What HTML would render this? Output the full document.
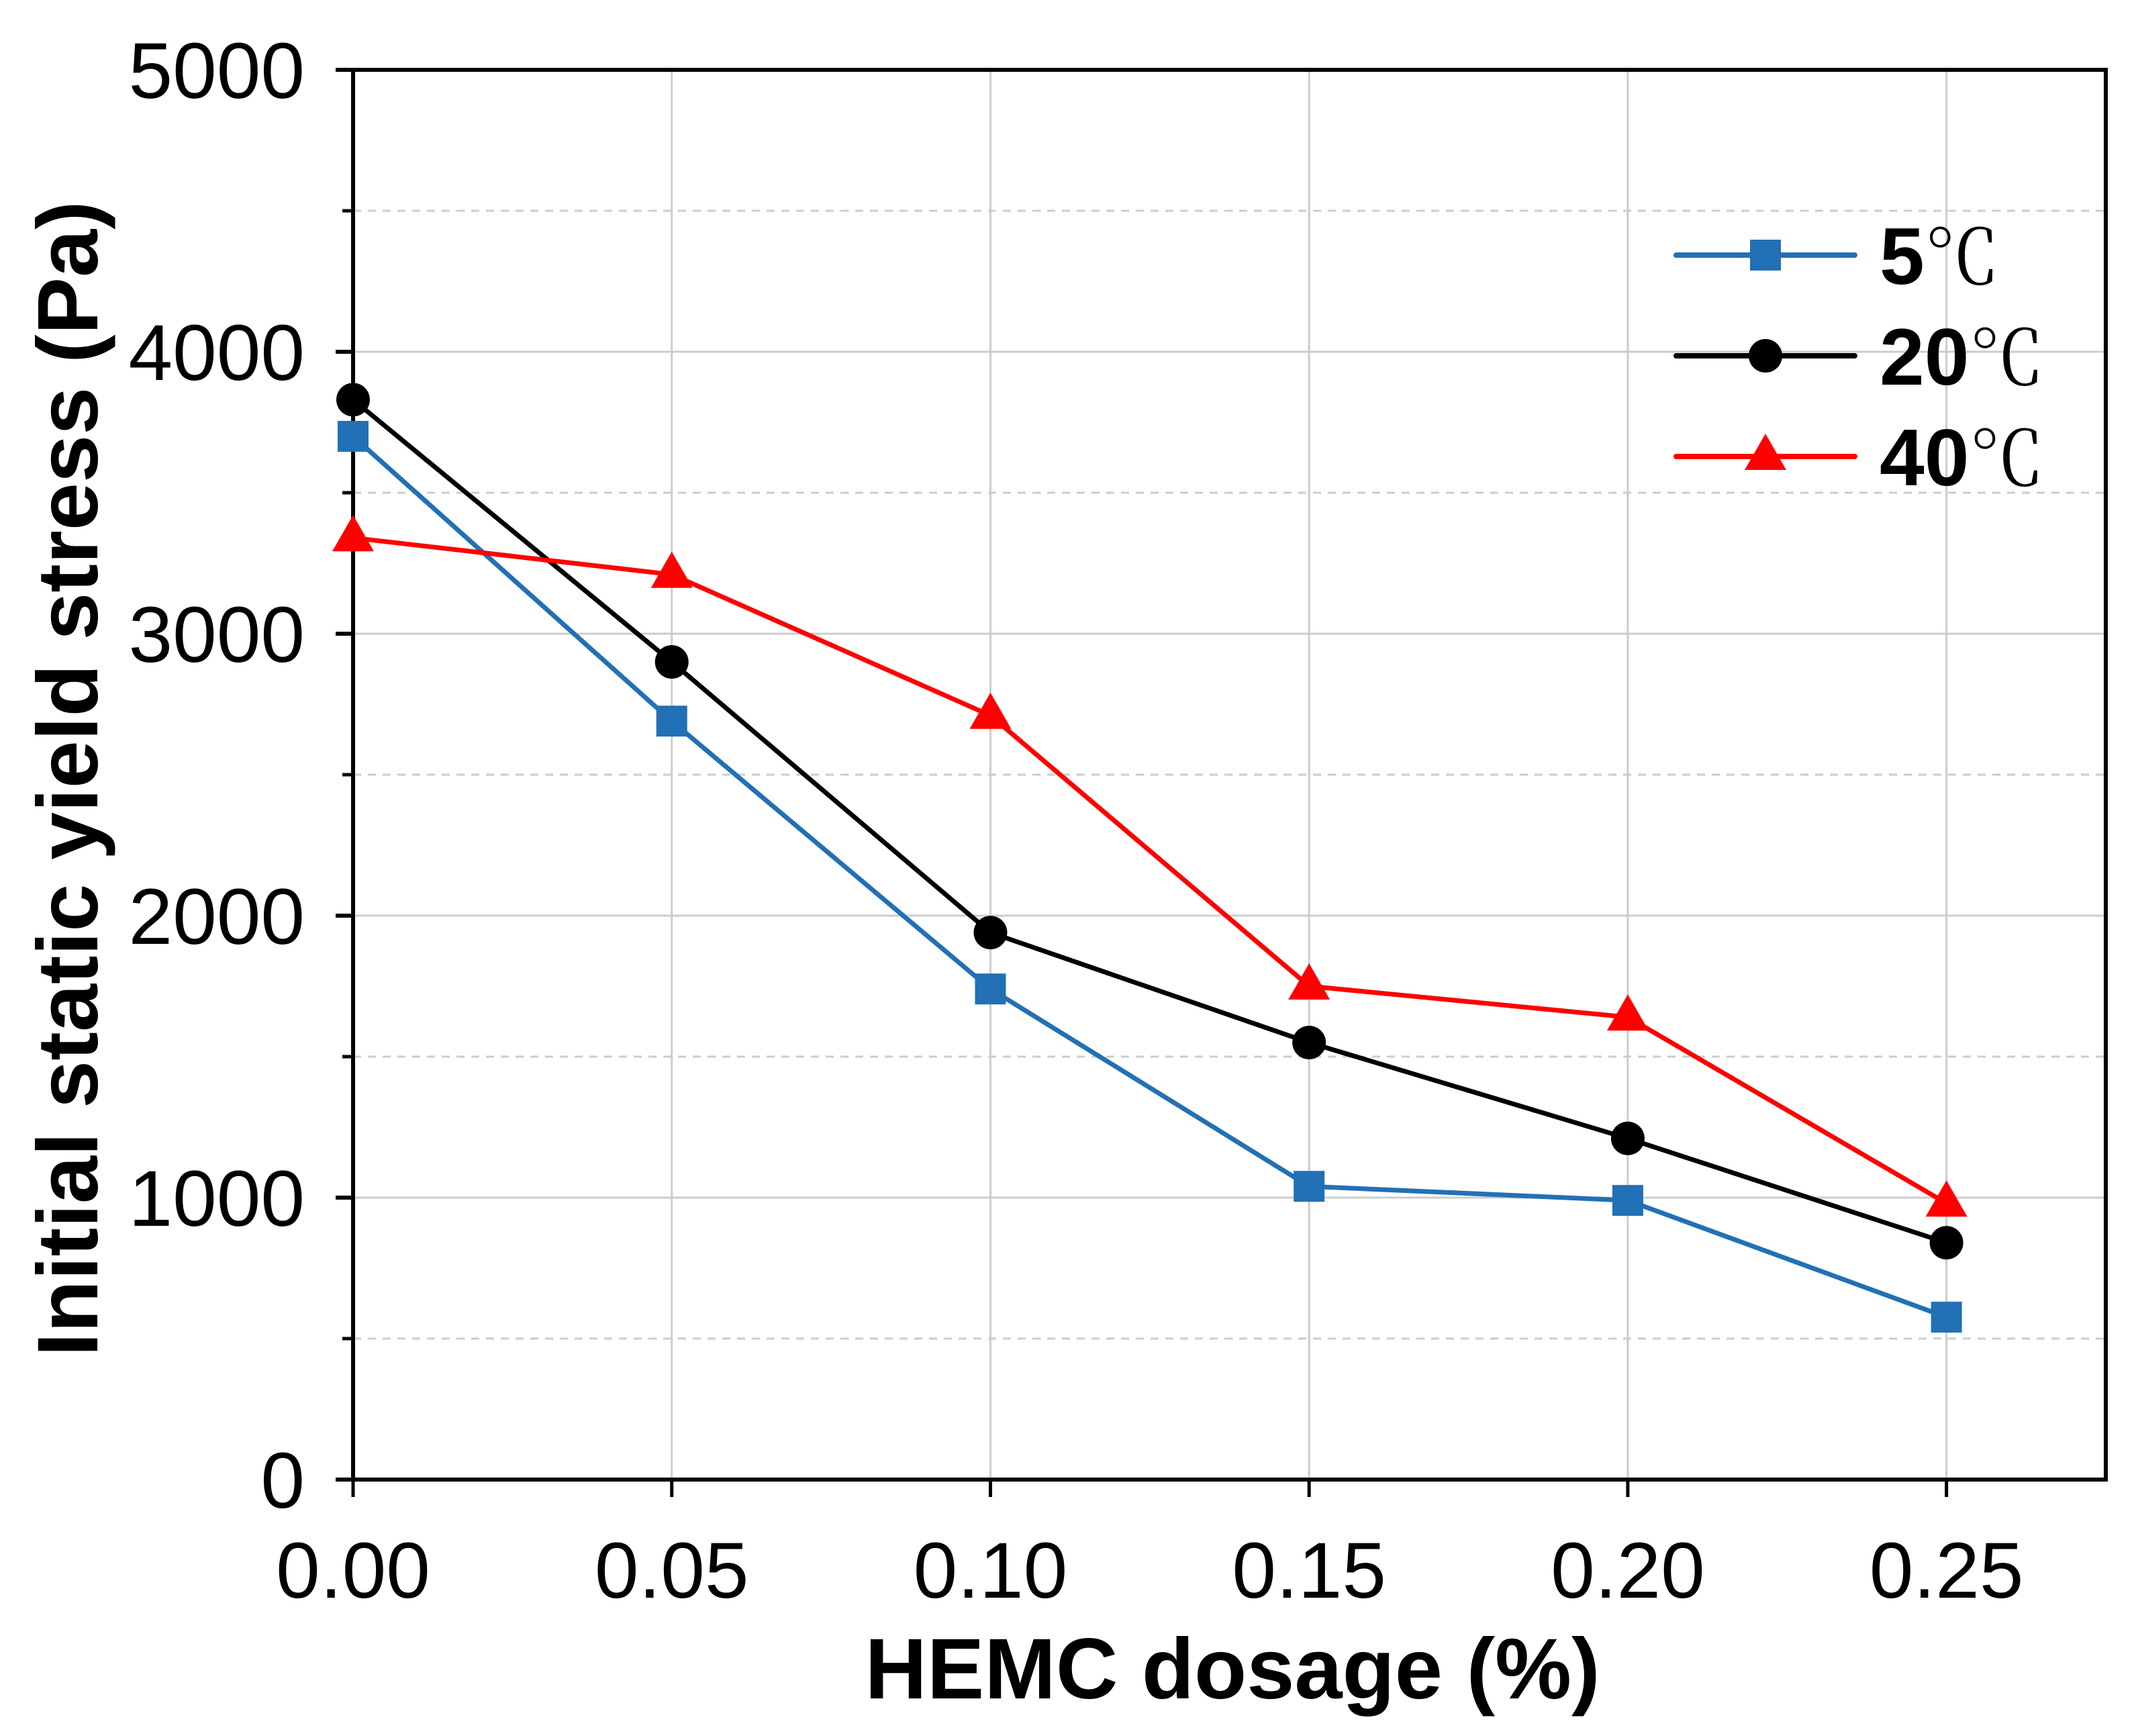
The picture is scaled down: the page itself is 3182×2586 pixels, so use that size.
<!DOCTYPE html>
<html><head><meta charset="utf-8"><style>
html,body{margin:0;padding:0;background:#fff;}
svg{display:block;}
</style></head><body>
<svg id="chart" width="3182" height="2586" viewBox="0 0 3182 2586" xmlns="http://www.w3.org/2000/svg">
<g id="grid"></g>
<g id="axes"></g>
<g id="series"></g>
<g id="legend"></g>
<text x="1836" y="2530" text-anchor="middle" font-family="Liberation Sans, sans-serif" font-weight="bold" font-size="128">HEMC dosage (%)</text>
<text transform="translate(145,1160) rotate(-90)" text-anchor="middle" font-family="Liberation Sans, sans-serif" font-weight="bold" font-size="128">Initial static yield stress (Pa)</text>
</svg>
<script>
const xValues = [0, 0.05, 0.10, 0.15, 0.20, 0.25];
const xTickLabels = ["0.00","0.05","0.10","0.15","0.20","0.25"];
const yTicks = [0, 1000, 2000, 3000, 4000, 5000];
const yMinorTicks = [500, 1500, 2500, 3500, 4500];
const s5 = [3700, 2690, 1740, 1040, 990, 576];
const s20 = [3830, 2900, 1940, 1550, 1210, 840];
const s40 = [3340, 3210, 2710, 1750, 1640, 980];
const seriesNames = ["5", "20", "40"];

const L=526, R=3137, T=104, B=2204;
const xMax=0.275, yMax=5000;
const X=v=>L+(v/xMax)*(R-L);
const Y=v=>B-(v/yMax)*(B-T);
const NS="http://www.w3.org/2000/svg";
function mk(tag,attrs,parent){const e=document.createElementNS(NS,tag);for(const k in attrs)e.setAttribute(k,attrs[k]);parent.appendChild(e);return e;}
const grid=document.getElementById('grid'),axes=document.getElementById('axes'),ser=document.getElementById('series'),leg=document.getElementById('legend');

yTicks.forEach(v=>{if(v>0&&v<yMax){const l=mk('line',{x1:L,x2:R,y1:Y(v),y2:Y(v),stroke:'#cccccc','stroke-width':3},grid);

}});
yMinorTicks.forEach(v=>{const l=mk('line',{x1:L,x2:R,y1:Y(v),y2:Y(v),stroke:'#cccccc','stroke-width':3,'stroke-dasharray':'12 10'},grid);

});
xValues.forEach(v=>{if(v>0){const l=mk('line',{x1:X(v),x2:X(v),y1:T,y2:B,stroke:'#cccccc','stroke-width':3},grid);

}});

const fr=mk('rect',{x:L,y:T,width:R-L,height:B-T,fill:'none',stroke:'#000','stroke-width':6},axes);


yTicks.forEach((v,i)=>{const t=mk('line',{x1:L-26,x2:L,y1:Y(v),y2:Y(v),stroke:'#000','stroke-width':6},axes);


const tx=mk('text',{x:L-72,y:Y(v)+42,'text-anchor':'end','font-family':'Liberation Sans, sans-serif','font-size':118},axes);
tx.textContent=String(v);

});
yMinorTicks.forEach(v=>{const t=mk('line',{x1:L-16,x2:L,y1:Y(v),y2:Y(v),stroke:'#000','stroke-width':5},axes);

});
xValues.forEach((v,i)=>{const t=mk('line',{x1:X(v),x2:X(v),y1:B,y2:B+26,stroke:'#000','stroke-width':5},axes);


const tx=mk('text',{x:X(v),y:2380,'text-anchor':'middle','font-family':'Liberation Sans, sans-serif','font-size':118},axes);
tx.textContent=xTickLabels[i];

});

function marker(kind,cx,cy,color,parent){
 let m;
 if(kind==='square'){m=mk('rect',{x:cx-23,y:cy-23,width:46,height:46,fill:color},parent);}
 else if(kind==='circle'){m=mk('circle',{cx:cx,cy:cy,r:25,fill:color},parent);}
 else {m=mk('polygon',{points:`${cx},${cy-34} ${cx-31},${cy+20} ${cx+31},${cy+20}`,fill:color},parent);}
 return m;
}
const defs=[[s5,'#2270b5','square'],[s20,'#000000','circle'],[s40,'#ff0000','triangle']];
defs.forEach(([vals,color,kind],si)=>{
 const g=mk('g',{},ser);
 
 
 const pts=vals.map((v,i)=>X(xValues[i])+','+Y(v)).join(' ');
 const pl=mk('polyline',{points:pts,fill:'none',stroke:color,'stroke-width':7,'stroke-linejoin':'round'},g);
 
 
 vals.forEach((v,i)=>{const m=marker(kind,X(xValues[i]),Y(v),color,g);
 
 });
 const ly=380+si*150;
 const lg=mk('g',{},leg);
 
 
 mk('line',{x1:2497,x2:2763,y1:ly,y2:ly,stroke:color,'stroke-width':8,'stroke-linecap':'round'},lg);
 marker(kind,2630,ly,color,lg);
 const t=mk('text',{x:2800,y:ly+43,'font-family':'Liberation Sans, sans-serif','font-size':120,'font-weight':'bold'},lg);
 t.textContent=seriesNames[si];
 const u=mk('tspan',{'font-family':'Noto Serif CJK SC, serif','font-weight':'normal','font-size':112},t);
 u.textContent='℃';
});
</script>
</body></html>
